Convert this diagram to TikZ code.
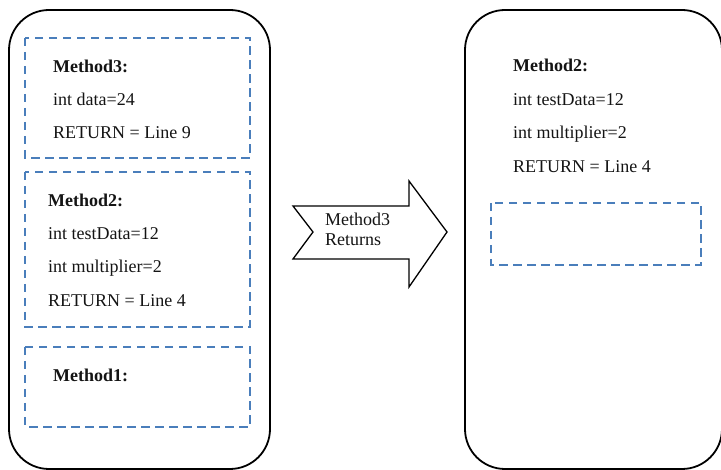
\documentclass[tikz,border=0pt]{standalone}
\usepackage{fontspec}
\setmainfont{Liberation Serif}
\definecolor{dashblue}{RGB}{74,126,187}
\definecolor{txt}{RGB}{20,20,20}
\begin{document}
\begin{tikzpicture}[x=1pt,y=-1pt,
  stackbox/.style={draw=black,line width=1.8pt,rounded corners=40pt},
  frame/.style={draw=dashblue,line width=2.2pt,dash pattern=on 8.5pt off 5.5pt},
  lbl/.style={anchor=base west,inner sep=0pt,text=txt,font=\fontsize{18}{20}\selectfont},
  bl/.style={lbl,font=\fontsize{18}{20}\selectfont\bfseries}]
\useasboundingbox (0,0) rectangle (721,470);
\begin{scope}
\clip (0,0) rectangle (721,470);
% left stack
\draw[stackbox] (9,10) rectangle (270,469);
% right stack
\draw[stackbox] (465,10) rectangle (722,469);
\end{scope}
% frames left
\draw[frame] (25,38) rectangle (250,158);
\draw[frame] (25,172) rectangle (250,327);
\draw[frame] (25,347) rectangle (250,427);
% frame right
\draw[frame] (491,203) rectangle (701,265);
% texts left
\node[bl] (m3) at (53,72.5) {Method3:};
\node[lbl] (m3a) at (53,106) {int data=24};
\node[lbl] (m3r) at (53,139) {RETURN = Line 9};
\node[bl] (m2) at (48,206.5) {Method2:};
\node[lbl] (m2a) at (48,239.5) {int testData=12};
\node[lbl] (m2b) at (48,273) {int multiplier=2};
\node[lbl] (m2r) at (48,306.5) {RETURN = Line 4};
\node[bl] (m1) at (53,381.5) {Method1:};
% texts right
\node[bl] (n2) at (513,72) {Method2:};
\node[lbl] (n2a) at (513,105.5) {int testData=12};
\node[lbl] (n2b) at (513,139) {int multiplier=2};
\node[lbl] (n2r) at (513,172.5) {RETURN = Line 4};
% arrow
\draw[line width=1.3pt,line join=miter,fill=white] (293,206) -- (409,206) -- (409,181) -- (447,232) -- (409,287) -- (409,259) -- (293,259) -- (313,232) -- cycle;
\node[lbl] (ar1) at (325,226) {Method3};
\node[lbl] (ar2) at (325,246) {Returns};
\end{tikzpicture}
\end{document}
